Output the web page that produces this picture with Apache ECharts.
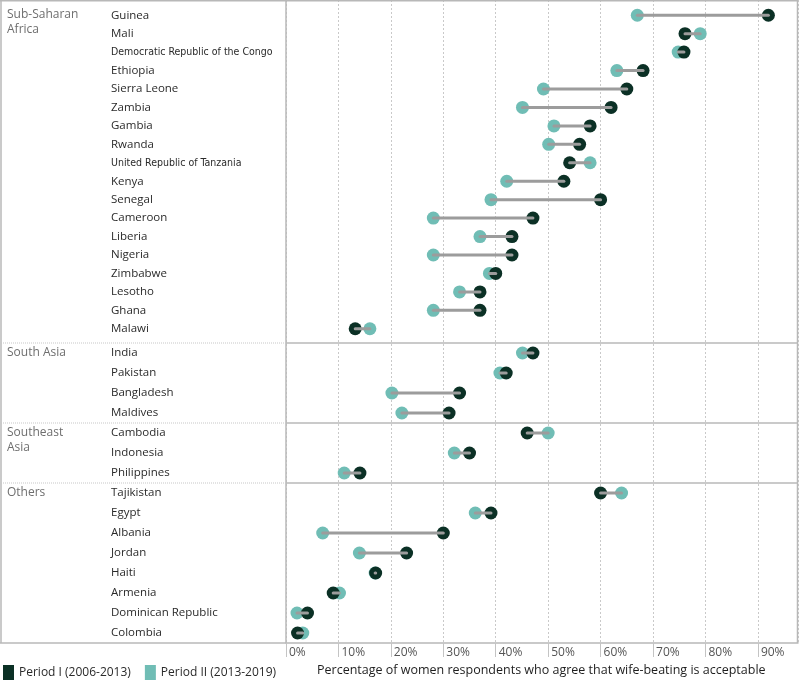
<!DOCTYPE html>
<html>
<head>
<meta charset="utf-8">
<script src="https://cdn.jsdelivr.net/npm/echarts@6/dist/echarts.min.js"></script>
<style>html,body{margin:0;padding:0;background:#fff}#c{width:800px;height:682px}</style>
</head>
<body>
<div id="c"></div>
<script>
// ---- data ----
const regions = ['Sub-Saharan\nAfrica', 'South Asia', 'Southeast\nAsia', 'Others'];
const regionSizes = [18, 4, 3, 8];
const countries = ['Guinea','Mali','Democratic Republic of the Congo','Ethiopia','Sierra Leone','Zambia','Gambia','Rwanda','United Republic of Tanzania','Kenya','Senegal','Cameroon','Liberia','Nigeria','Zimbabwe','Lesotho','Ghana','Malawi',
  'India','Pakistan','Bangladesh','Maldives',
  'Cambodia','Indonesia','Philippines',
  'Tajikistan','Egypt','Albania','Jordan','Haiti','Armenia','Dominican Republic','Colombia'];
const period1 = [92.0,76.1,75.9,68.1,65.0,62.0,58.0,56.0,54.1,53.0,60.0,47.1,43.1,43.1,40.0,37.0,37.0,13.2,
  47.1,42.0,33.1,31.1,
  46.0,35.0,14.1,
  60.0,39.1,30.0,23.0,17.1,9.0,4.1,2.2];
const period2 = [67.0,79.0,74.8,63.1,49.1,45.1,51.1,50.1,58.0,42.1,39.1,28.1,37.0,28.1,38.8,33.1,28.1,16.0,
  45.1,40.8,20.2,22.1,
  50.0,32.1,11.1,
  64.0,36.1,7.0,14.0,17.0,10.2,2.1,3.2];
const tickValues = [0,10,20,30,40,50,60,70,80,90];
const seriesNames = ['Period I (2006-2013)', 'Period II (2013-2019)'];

// ---- layout / style ----
const DARK = '#0b3025', TEAL = '#70bdb5', LINE = '#9c9c9c';
const FONT = 'Open Sans';
const PL = 286, PR = 798, PT = 0, PB = 643;
const XMAX = 97.65;
const gTops = [6, 343, 423, 483];
const gHeights = [332, 80, 60, 160];
const narrow = ['Democratic Republic of the Congo', 'United Republic of Tanzania'];

const grids = [{left: PL, top: PT, width: PR - PL, height: PB - PT}];
const xAxes = [{
  type: 'value', gridIndex: 0, min: 0, max: XMAX, interval: 10,
  axisLine: {show: true, lineStyle: {color: '#b8b8b8', width: 1.5}},
  axisTick: {show: true, length: 14, lineStyle: {color: '#c4c4c4'}},
  axisLabel: {showMaxLabel: false, align: 'left', margin: 4, padding: [0,0,0,3],
    fontFamily: FONT, fontSize: 12, color: '#555',
    formatter: v => tickValues.includes(v) ? v + '%' : ''},
  splitLine: {show: true, lineStyle: {type: [2, 2], color: '#c9c9c9', width: 1}}
}];
const yAxes = [{type: 'value', gridIndex: 0, min: 0, max: 1, show: false, splitLine: {show: false}}];
const series = [];
let start = 0;
const regionCenters = [];
regionSizes.forEach((n, i) => {
  const gi = i + 1;
  grids.push({left: PL, top: gTops[i], width: PR - PL, height: gHeights[i]});
  regionCenters.push(gTops[i] + gHeights[i] / n / 2);
  xAxes.push({type: 'value', gridIndex: gi, min: 0, max: XMAX, show: false, splitLine: {show: false}});
  const cats = countries.slice(start, start + n);
  yAxes.push({
    type: 'category', gridIndex: gi, data: cats, inverse: true,
    axisLine: {show: false}, axisTick: {show: false}, splitLine: {show: false},
    axisLabel: {margin: PL - 111, align: 'left', fontFamily: FONT, fontSize: 11.5, color: '#2a2a2a',
      formatter: v => narrow.includes(v) ? '{n|' + v + '}' : v,
      rich: {n: {fontFamily: "'DejaVu Sans Condensed', 'Liberation Sans Narrow', 'Open Sans Condensed', sans-serif",
        fontSize: 10.5, color: '#2a2a2a'}}}
  });
  const p1 = period1.slice(start, start + n), p2 = period2.slice(start, start + n);
  series.push({
    type: 'scatter', name: seriesNames[1], xAxisIndex: gi, yAxisIndex: gi, z: 2,
    symbolSize: 13, itemStyle: {color: TEAL, opacity: 1},
    data: p2.map((v, k) => [v, k])
  });
  series.push({
    type: 'scatter', name: seriesNames[0], xAxisIndex: gi, yAxisIndex: gi, z: 3,
    symbolSize: 13, itemStyle: {color: DARK, opacity: 1},
    data: p1.map((v, k) => [v, k])
  });
  series.push({
    type: 'custom', name: 'link' + i, xAxisIndex: gi, yAxisIndex: gi, z: 4,
    encode: {x: [0, 1], y: 2},
    data: p1.map((v, k) => [v, p2[k], k]),
    renderItem: (params, api) => {
      const a = api.coord([api.value(0), api.value(2)]);
      const b = api.coord([api.value(1), api.value(2)]);
      return {type: 'line', shape: {x1: a[0], y1: a[1], x2: b[0], y2: b[1]},
        style: {stroke: LINE, lineWidth: 3, lineCap: 'round'}};
    }
  });
  start += n;
});

const FRAME = '#b8b8b8';
const graphics = [
  {type: 'line', shape: {x1: 0, y1: 0.75, x2: PR, y2: 0.75}, style: {stroke: FRAME, lineWidth: 1.5}, z: 10},
  {type: 'line', shape: {x1: 1, y1: 0, x2: 1, y2: PB}, style: {stroke: FRAME, lineWidth: 1.5}, z: 10},
  {type: 'line', shape: {x1: 0, y1: PB, x2: PL, y2: PB}, style: {stroke: FRAME, lineWidth: 1.5}, z: 10},
  {type: 'line', shape: {x1: PL, y1: 0, x2: PL, y2: PB}, style: {stroke: FRAME, lineWidth: 1.5}, z: 10},
  {type: 'line', shape: {x1: PR - 0.5, y1: 0, x2: PR - 0.5, y2: PB}, style: {stroke: FRAME, lineWidth: 1.5}, z: 10}
];
for (let i = 1; i < gTops.length; i++) {
  graphics.push({type: 'line', shape: {x1: 1, y1: gTops[i], x2: PL, y2: gTops[i]},
    style: {stroke: '#c8c8c8', lineWidth: 1, lineDash: [1, 1]}, z: 10});
  graphics.push({type: 'line', shape: {x1: PL, y1: gTops[i], x2: PR, y2: gTops[i]},
    style: {stroke: FRAME, lineWidth: 1.5}, z: 10});
}
regions.forEach((r, i) => {
  graphics.push({type: 'text', left: 7, top: regionCenters[i] - 7.5,
    style: {text: r, fontFamily: FONT, fontSize: 12, lineHeight: 14.5, fill: '#6e6e6e'}, z: 10});
});

const chart = echarts.init(document.getElementById('c'));
chart.setOption({
  animation: false,
  backgroundColor: '#fff',
  title: {text: 'Percentage of women respondents who agree that wife-beating is acceptable',
    left: 317, top: 664, padding: 0,
    textStyle: {fontFamily: FONT, fontSize: 12.5, fontWeight: 'normal', color: '#1e1e1e'}},
  legend: {data: seriesNames, left: 3, top: 665, padding: 0, icon: 'rect',
    itemWidth: 11, itemHeight: 15, itemGap: 14,
    textStyle: {fontFamily: FONT, fontSize: 12, color: '#2a2a2a'}},
  grid: grids, xAxis: xAxes, yAxis: yAxes, series: series, graphic: graphics
});
</script>
</body>
</html>
